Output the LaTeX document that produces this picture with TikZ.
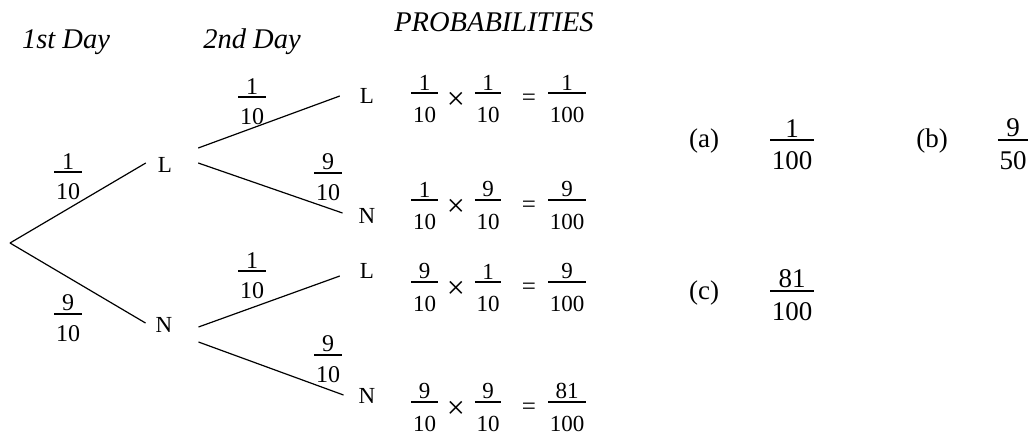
\documentclass[tikz,border=0pt]{standalone}
\usepackage{fontspec}
\setmainfont{Liberation Serif}
\usetikzlibrary{calc}
% fraction: optional gap below bar, numerator, denominator; baseline at the bar
\newcommand\fr[3][12pt]{%
 \begingroup
 \setbox0\hbox{#2}\setbox2\hbox{#3}%
 \dimen0=\wd0 \ifdim\wd2>\dimen0 \dimen0=\wd2 \fi
 \advance\dimen0 by 3.2pt
 \setbox4\vbox{\offinterlineskip
   \hbox to\dimen0{\hss\box0\hss}%
   \kern2pt
   \hrule height 1.8pt
   \kern#1\relax
   \hbox to\dimen0{\hss\copy2\hss}}%
 \dimen2=\ht2 \advance\dimen2 by #1\relax \advance\dimen2 by 0.9pt
 \lower\dimen2\box4
 \endgroup}
\tikzset{
 lab/.style={inner sep=0pt, font=\fontsize{23}{27}\selectfont},
 hdr/.style={inner sep=0pt, anchor=base, font=\fontsize{28.5}{32}\selectfont\itshape},
 efr/.style={inner sep=0pt, anchor=base, font=\fontsize{24}{28}\selectfont},
 pfr/.style={inner sep=0pt, anchor=base, font=\fontsize{23}{27}\selectfont},
 afr/.style={inner sep=0pt, anchor=base, font=\fontsize{27}{31}\selectfont},
 timesop/.style={inner sep=0pt, anchor=center, font=\fontsize{32}{36}\selectfont},
 eqop/.style={inner sep=0pt, anchor=base, font=\fontsize{25}{29}\selectfont},
 ans/.style={inner sep=0pt, font=\fontsize{27}{31}\selectfont},
 br/.style={line width=1.2pt},
}
\begin{document}
\begin{tikzpicture}[x=1pt,y=-1pt]
\useasboundingbox (0,0) rectangle (1032,437);
% headers
\node[hdr] (h1) at (66,48) {1st Day};
\node[hdr] (h2) at (252,48) {2nd Day};
\node[hdr] (h3) at (494,31) {PROBABILITIES};
% tree nodes
\coordinate (r) at (10,243);
\node[lab] (L1) at (165,165) {L};
\node[lab] (N1) at (164,325) {N};
\node[lab] (L2) at (367,96) {L};
\node[lab] (N2) at (367,216) {N};
\node[lab] (L3) at (367,271) {L};
\node[lab] (N3) at (367,396) {N};
% branches
\draw[br] (r) -- ($(L1.west)+(-12,-2)$);
\draw[br] (r) -- ($(N1.west)+(-10,-2)$);
\draw[br] ($(L1.east)+(26,-17)$) -- ($(L2.west)+(-20,0)$);
\draw[br] ($(L1.east)+(26,-2)$) -- ($(N2.west)+(-16,-3)$);
\draw[br] ($(N1.east)+(26,2)$) -- ($(L3.west)+(-20,5)$);
\draw[br] ($(N1.east)+(26,17)$) -- ($(N3.west)+(-15,-1)$);
% branch probabilities
\node[efr] (f1) at (68,172) {\fr[11pt]{1}{10}};
\node[efr] (f2) at (68,314) {\fr[11pt]{9}{10}};
\node[efr] (f3) at (252,97) {\fr[11pt]{1}{10}};
\node[efr] (f4) at (328,173) {\fr[11pt]{9}{10}};
\node[efr] (f5) at (252,271) {\fr[11pt]{1}{10}};
\node[efr] (f6) at (328,355) {\fr[11pt]{9}{10}};
% products
\foreach \i/\y/\a/\b/\c in {1/93/1/1/1, 2/200/1/9/9, 3/282/9/1/9, 4/402/9/9/81}{
  \node[pfr] (pa\i) at (424.5,\y) {\fr[13pt]{\a}{10}};
  \node[timesop] (px\i) at (456,\y+7.5) {×};
  \node[pfr] (pb\i) at (488,\y) {\fr[13pt]{\b}{10}};
  \node[eqop] (pe\i) at (529,\y+12) {=};
  \node[pfr] (pc\i) at (567,\y) {\fr[13pt]{\c}{100}};
}
% answers
\node[ans] (qa) at (704,141) {(a)};
\node[afr] (ra) at (792,140) {\fr[11pt]{1}{100}};
\node[ans] (qb) at (932,141) {(b)};
\node[afr] (rb) at (1013,140) {\fr[11pt]{9}{50}};
\node[ans] (qc) at (704,293) {(c)};
\node[afr] (rc) at (792,291) {\fr[11pt]{81}{100}};
\end{tikzpicture}
\end{document}
